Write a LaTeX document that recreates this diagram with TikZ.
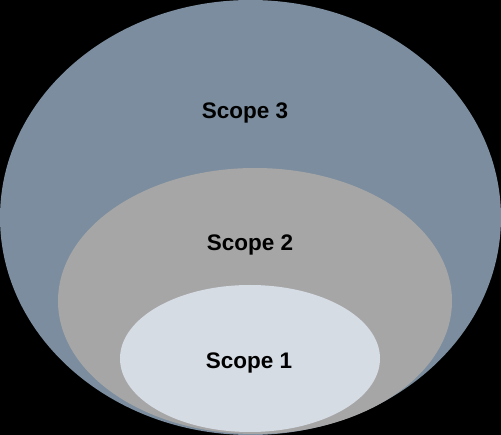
\documentclass[tikz,border=0pt]{standalone}
\usepackage{fontspec}
\setmainfont{Liberation Sans}
\definecolor{outerc}{HTML}{7B8D9E}
\definecolor{midc}{HTML}{A6A6A6}
\definecolor{innerc}{HTML}{D6DCE4}
\begin{document}
\begin{tikzpicture}[x=1pt,y=-1pt,
  lbl/.style={anchor=base,font=\fontsize{22.5}{26}\selectfont\bfseries,text=black,inner sep=0pt}]
\fill[black] (0,0) rectangle (501,435);
\useasboundingbox (0,0) rectangle (501,435);
\fill[outerc] (250.5,217.5) ellipse [x radius=250.5, y radius=217.5];
\fill[midc] (255,301) ellipse [x radius=197, y radius=133];
\fill[innerc] (250,358.5) ellipse [x radius=130, y radius=73.5];
\node[lbl] (s3) at (245,119) {Scope 3};
\node[lbl] (s2) at (250,251) {Scope 2};
\node[lbl] (s1) at (249,369) {Scope 1};
\end{tikzpicture}
\end{document}
